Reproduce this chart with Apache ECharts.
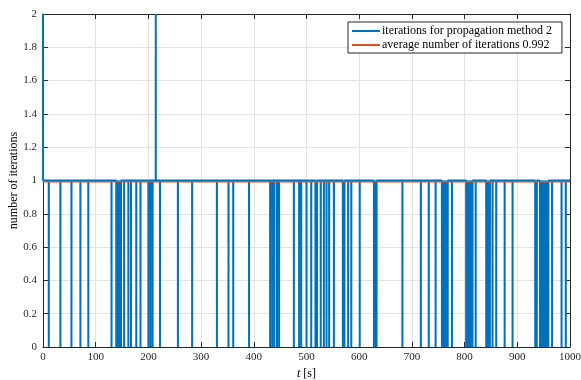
<!DOCTYPE html>
<html>
<head>
<meta charset="utf-8">
<script src="https://cdn.jsdelivr.net/npm/echarts@6/dist/echarts.min.js"></script>
<style>
  html, body { margin: 0; padding: 0; background: #fff; }
  #chart { width: 581px; height: 380px; }
</style>
</head>
<body>
<div id="chart"></div>
<script>
// Time steps [s] at which propagation method 2 needed no iteration
const zeroTimes = [
  11, 33, 54, 71, 86, 130, 139, 141, 143, 145, 146, 148, 154, 162, 167, 177, 185,
  200, 204, 208, 222, 256, 283, 330, 352, 361, 391, 431, 435, 439, 444, 448,
  476, 486, 490, 500, 509, 517, 520, 527, 533, 538, 543, 552, 569, 572, 579, 585,
  601, 628, 631, 633, 682, 717, 732, 745, 757, 759, 761, 763, 765, 768, 776,
  803, 805, 807, 809, 811, 813, 815, 821, 841, 843, 845, 848, 853, 860, 876, 891,
  934, 937, 943, 945, 947, 949, 951, 953, 956, 959, 966, 984, 992
];
// Time steps [s] at which two iterations were needed
const twoTimes = [214];
const baseIterations = 1;
const startIterations = 2;
const averageIterations = 0.992;
const tEnd = 1000;
const dt = 0.1;

const legendNames = [
  'iterations for propagation method 2',
  'average number of iterations 0.992'
];

// Build the iteration trace: constant level with single-sample excursions
const events = zeroTimes.map(t => [t, 0]).concat(twoTimes.map(t => [t, 2]))
  .sort((a, b) => a[0] - b[0]);
const trace = [[0, startIterations], [dt, baseIterations]];
events.forEach(([t, v]) => {
  trace.push([t - dt, baseIterations], [t, v], [t + dt, baseIterations]);
});
trace.push([tEnd, baseIterations]);

const average = [[0, averageIterations], [tEnd, averageIterations]];

const serif = '"Liberation Serif", "DejaVu Serif", serif';
const axisColor = '#262626';
const gridColor = '#e3e3e3';

const fmtY = v => (Math.round(v * 10) / 10).toString();
const fmtX = v => String(Math.round(v));

const chart = echarts.init(document.getElementById('chart'), null, { renderer: 'canvas' });
chart.setOption({
  animation: false,
  backgroundColor: '#fff',
  grid: { left: 43, right: 11, top: 14, bottom: 33, containLabel: false, outerBoundsMode: 'none' },
  legend: {
    orient: 'vertical',
    left: 348,
    top: 22,
    padding: [3, 10, 2, 4],
    itemGap: 2,
    itemWidth: 28,
    itemHeight: 2,
    icon: 'rect',
    backgroundColor: '#fff',
    borderColor: '#262626',
    borderWidth: 1,
    borderRadius: 0,
    textStyle: { fontFamily: serif, fontSize: 12, color: '#000', lineHeight: 12, padding: [0, 0, 0, -3] },
    data: legendNames
  },
  xAxis: [{
    type: 'value', min: 0, max: tEnd, interval: 100,
    name: '{i|t} [s]', nameLocation: 'middle', nameGap: 21,
    nameTextStyle: {
      fontFamily: serif, fontSize: 12, color: '#000',
      rich: { i: { fontFamily: serif, fontSize: 12, fontStyle: 'italic', color: '#000' } }
    },
    axisLine: { show: true, onZero: false, lineStyle: { color: axisColor, width: 1 } },
    axisTick: { show: true, inside: true, length: 5, lineStyle: { color: axisColor } },
    axisLabel: { margin: 5, fontFamily: serif, fontSize: 11, color: '#262626', formatter: fmtX, showMaxLabel: true, showMinLabel: true },
    splitLine: { show: true, lineStyle: { color: gridColor, width: 1 } }
  }, {
    type: 'value', min: 0, max: tEnd, interval: 100, position: 'top',
    axisLine: { show: true, onZero: false, lineStyle: { color: axisColor, width: 1 } },
    axisTick: { show: true, inside: true, length: 5, lineStyle: { color: axisColor } },
    axisLabel: { show: false },
    splitLine: { show: false }
  }],
  yAxis: [{
    type: 'value', min: 0, max: 2, interval: 0.2,
    name: 'number of iterations', nameLocation: 'middle', nameGap: 23, nameRotate: 90,
    nameMoveOverlap: false,
    nameTextStyle: { fontFamily: serif, fontSize: 12, color: '#000' },
    axisLine: { show: true, onZero: false, lineStyle: { color: axisColor, width: 1 } },
    axisTick: { show: true, inside: true, length: 5, lineStyle: { color: axisColor } },
    axisLabel: { margin: 6, fontFamily: serif, fontSize: 11, color: '#262626', formatter: fmtY },
    splitLine: { show: true, lineStyle: { color: gridColor, width: 1 } }
  }, {
    type: 'value', min: 0, max: 2, interval: 0.2, position: 'right',
    axisLine: { show: true, onZero: false, lineStyle: { color: axisColor, width: 1 } },
    axisTick: { show: true, inside: true, length: 5, lineStyle: { color: axisColor } },
    axisLabel: { show: false },
    splitLine: { show: false }
  }],
  series: [{
    name: legendNames[0],
    type: 'line',
    data: trace,
    showSymbol: false,
    symbol: 'none',
    sampling: false,
    color: '#0072BD',
    lineStyle: { color: '#0072BD', width: 2 },
    clip: true,
    z: 2
  }, {
    name: legendNames[1],
    type: 'line',
    data: average,
    showSymbol: false,
    symbol: 'none',
    color: '#D95319',
    lineStyle: { color: '#D95319', width: 1.5 },
    z: 3
  }]
});
</script>
</body>
</html>
